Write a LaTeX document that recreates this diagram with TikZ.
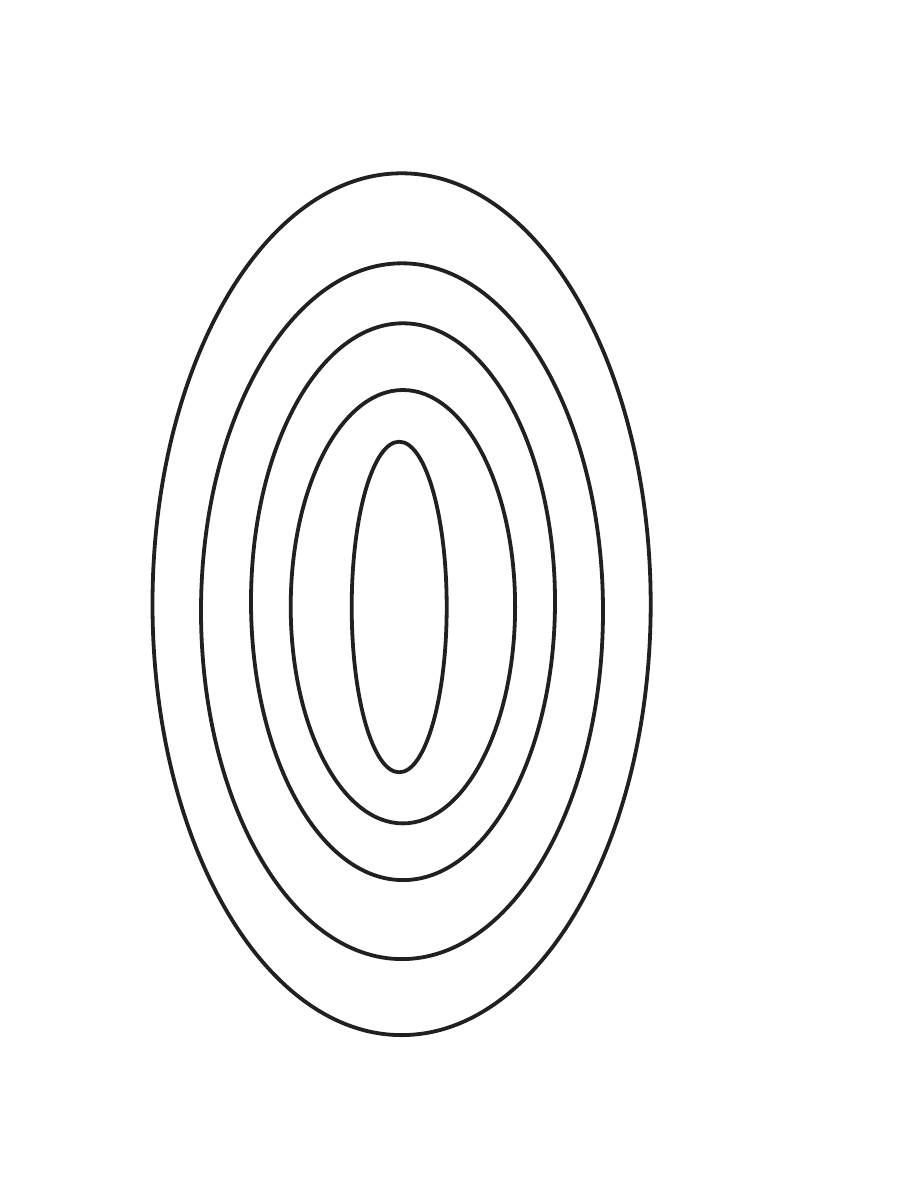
\documentclass[tikz,border=0pt]{standalone}
\definecolor{ringcolor}{RGB}{35,31,32}
\begin{document}
\begin{tikzpicture}[
            x=1pt, y=-1pt,
            ring/.style = {draw=ringcolor, line width=3.8pt}
          ]
          \useasboundingbox (0,0) rectangle (918,1188);
          \foreach \cx/\cy/\rx/\ry in {401.6/604.2/249.1/430.9, 402/611.2/201/347.9, 403/601.7/152/278.4, 402.9/606.7/112.2/216.7, 399.2/607/47.5/165.3}
            \draw[ring] (\cx,\cy) ellipse [x radius=\rx, y radius=\ry];
        \end{tikzpicture}
\end{document}
